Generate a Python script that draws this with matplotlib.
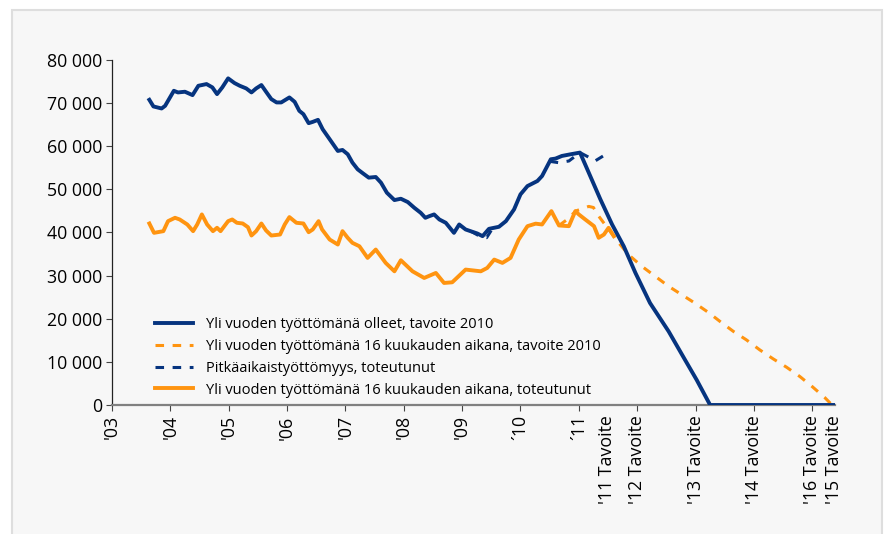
import numpy as np
import matplotlib.pyplot as plt
from matplotlib.patches import Rectangle
from matplotlib.ticker import FuncFormatter

plt.rcParams['font.family'] = ['Open Sans', 'DejaVu Sans']

# --- data ---
# blue solid: long-term unemployed (history + 2010 target path)
blue_x = [2003.64, 2003.71, 2003.85, 2003.91, 2004.06, 2004.13, 2004.25, 2004.38, 2004.48, 2004.62,
          2004.72, 2004.80, 2004.89, 2004.99, 2005.10, 2005.19, 2005.30, 2005.39, 2005.47, 2005.56,
          2005.64, 2005.73, 2005.82, 2005.90, 2006.04, 2006.13, 2006.21, 2006.28, 2006.37, 2006.44,
          2006.53, 2006.61, 2006.73, 2006.87, 2006.95, 2007.04, 2007.12, 2007.21, 2007.30, 2007.40,
          2007.52, 2007.61, 2007.71, 2007.84, 2007.95, 2008.07, 2008.18, 2008.29, 2008.37, 2008.44,
          2008.52, 2008.61, 2008.72, 2008.86, 2008.95, 2009.06, 2009.26, 2009.35, 2009.46, 2009.63,
          2009.75, 2009.89, 2010.00, 2010.12, 2010.29, 2010.37, 2010.43, 2010.52, 2010.60, 2010.71,
          2010.86, 2011.02, 2011.17, 2011.37, 2011.57, 2011.77, 2011.97, 2012.22, 2012.54, 2012.82,
          2013.02, 2013.25, 2015.37]
blue_y = [70770, 69230, 68760, 69370, 72860, 72480, 72640, 71860, 74020, 74420,
          73650, 72090, 73650, 75740, 74650, 74020, 73410, 72480, 73410, 74190,
          72640, 70930, 70160, 70160, 71320, 70300, 68210, 67440, 65350, 65650,
          66120, 63950, 61630, 58910, 59140, 58140, 56210, 54650, 53720, 52720,
          52870, 51550, 49230, 47520, 47830, 47050, 45740, 44570, 43410, 43800,
          44190, 43020, 42250, 39920, 41860, 40700, 39770, 39150, 40850, 41320,
          42630, 45350, 48840, 50770, 51940, 53100, 54650, 56980, 57140, 57750,
          58140, 58530, 53880, 47670, 41860, 36810, 30630, 23650, 17050, 10470,
          5810, 0, 0]

# blue dashed: realised long-term unemployment (visible parts only)
blue_dash_x = [2009.15, 2009.28, 2009.42, 2009.50, np.nan,
               2010.50, 2010.65, 2010.83, 2011.02, 2011.15, 2011.28, 2011.52]
blue_dash_y = [40300, 39300, 38800, 40500, np.nan,
               56500, 56200, 56580, 58530, 57600, 56600, 58600]

# orange solid: unemployed > 1 year within 16 months, realised
orange_x = [2003.64, 2003.72, 2003.88, 2003.96, 2004.08, 2004.16, 2004.29, 2004.39, 2004.46, 2004.54,
            2004.63, 2004.73, 2004.80, 2004.86, 2004.99, 2005.06, 2005.14, 2005.24, 2005.33, 2005.39,
            2005.47, 2005.56, 2005.64, 2005.73, 2005.88, 2005.96, 2006.04, 2006.16, 2006.28, 2006.37,
            2006.44, 2006.54, 2006.60, 2006.73, 2006.87, 2006.95, 2007.04, 2007.12, 2007.24, 2007.38,
            2007.52, 2007.69, 2007.84, 2007.95, 2008.15, 2008.35, 2008.55, 2008.69, 2008.83, 2009.06,
            2009.32, 2009.43, 2009.55, 2009.69, 2009.83, 2009.97, 2010.12, 2010.26, 2010.37, 2010.53,
            2010.66, 2010.83, 2010.94, 2011.00, 2011.11, 2011.26, 2011.34, 2011.43, 2011.51, 2011.60]
orange_y = [42090, 39920, 40310, 42630, 43410, 43020, 41860, 40310, 41860, 44190,
            41860, 40310, 41090, 40310, 42630, 43020, 42250, 42090, 41230, 39300,
            40310, 42090, 40470, 39300, 39530, 41860, 43570, 42250, 42090, 40070,
            40700, 42630, 40700, 38370, 37210, 40310, 38760, 37600, 36810, 34110,
            36050, 32950, 31000, 33560, 31000, 29460, 30620, 28300, 28450, 31400,
            31000, 31780, 33720, 32950, 34110, 38370, 41470, 42050, 41860, 44960,
            41630, 41470, 44960, 44190, 43020, 41470, 38770, 39530, 41090, 39140]

# orange dashed: 16-month target 2010
orange_dash_x = [2010.66, 2010.80, 2010.95, 2011.17, 2011.25, 2011.34, 2011.68, 2011.85, 2012.08, 2012.54,
                 2012.97, 2013.22, 2013.42, 2013.65, 2013.87, 2014.10, 2014.33, 2014.56, 2014.79, 2015.00,
                 2015.21, 2015.34]
orange_dash_y = [41630, 43000, 45000, 46050, 45800, 43800, 37670, 34880, 32160, 27510,
                 23790, 21470, 19370, 17050, 15120, 12790, 10700, 8760, 6580, 4260,
                 1780, 0]

tick_pos = [2003, 2004, 2005, 2006, 2007, 2008, 2009, 2010, 2011, 2011.48, 2012, 2013, 2014, 2015, 2015.37]
tick_labels = ["'03", "'04", "'05", "'06", "'07", "'08", "'09", "\u00b410", "\u00b411",
               "'11 Tavoite", "'12 Tavoite", "'13 Tavoite", "'14 Tavoite", "'16 Tavoite", "'15 Tavoite"]

labels = ['Yli vuoden työttömänä olleet, tavoite 2010',
          'Yli vuoden työttömänä 16 kuukauden aikana, tavoite 2010',
          'Pitkäaikaistyöttömyys, toteutunut',
          'Yli vuoden työttömänä 16 kuukauden aikana, toteutunut']

blue = '#06347f'
orange = '#ff9410'

fig = plt.figure(figsize=(8.87, 5.34), dpi=100)
fig.patches.append(Rectangle((12 / 887, -0.02), 870 / 887, 0.02 + 524 / 534, transform=fig.transFigure,
                             facecolor='#f7f7f7', edgecolor='#dedede', lw=1.5, zorder=-10))
ax = fig.add_axes([112 / 887, 129 / 534, 723 / 887, 345 / 534])
ax.set_facecolor('none')

l1, = ax.plot(blue_x, blue_y, color=blue, lw=2.8, solid_joinstyle='round', zorder=4)
l2, = ax.plot(orange_dash_x, orange_dash_y, color=orange, lw=2.2, dashes=(2.8, 2.8), zorder=3)
l3, = ax.plot(blue_dash_x, blue_dash_y, color=blue, lw=2.2, dashes=(2.8, 2.8), zorder=3)
l4, = ax.plot(orange_x, orange_y, color=orange, lw=2.8, solid_joinstyle='round', zorder=2)

ax.set_xlim(2003, 2015.39)
ax.set_ylim(0, 80000)
ax.set_yticks(range(0, 80001, 10000))
ax.yaxis.set_major_formatter(FuncFormatter(lambda v, p: f'{int(v):,}'.replace(',', ' ')))
ax.set_xticks(range(2003, 2016))
ax.set_xticklabels([])
for x, t in zip(tick_pos, tick_labels):
    ax.text(x, -0.03, t, transform=ax.get_xaxis_transform(), rotation=90,
            ha='center', va='top', fontsize=12.8)

for s in ['top', 'right']:
    ax.spines[s].set_visible(False)
ax.spines['left'].set_color('#222222')
ax.spines['left'].set_linewidth(0.9)
ax.spines['bottom'].set_color('#808080')
ax.spines['bottom'].set_linewidth(1.6)
ax.tick_params(axis='y', length=4, width=0.8, color='#444444', labelsize=12.8, pad=3)
ax.tick_params(axis='x', length=4, width=0.8, color='#444444')

ax.legend([l1, l2, l3, l4], labels, loc='upper left', bbox_to_anchor=(0.052, 0.272),
          frameon=False, fontsize=10.5, handlelength=2.55, handletextpad=0.95, labelspacing=0.47,
          borderaxespad=0)

fig.savefig('out.png', dpi=100)
